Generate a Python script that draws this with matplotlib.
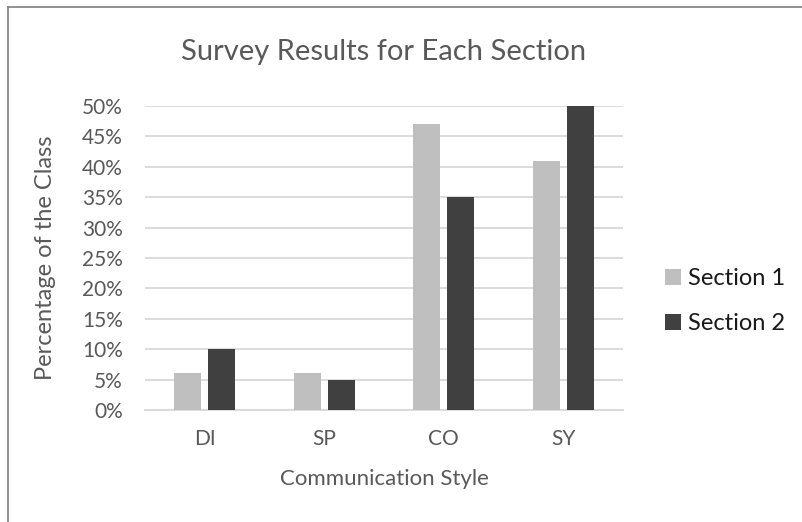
import matplotlib.pyplot as plt
import numpy as np
from matplotlib.lines import Line2D
from matplotlib.ticker import PercentFormatter

plt.rcParams['font.family'] = ['Lato', 'DejaVu Sans']

# dati
stili = ['DI', 'SP', 'CO', 'SY']
sezione_1 = [6, 6, 47, 41]
sezione_2 = [10, 5, 35, 50]
tick_y = [0, 5, 10, 15, 20, 25, 30, 35, 40, 45, 50]

grigio_testo = '#595959'

fig = plt.figure(figsize=(8.02, 5.22), dpi=100)
ax = fig.add_axes([0.1808, 0.2146, 0.596, 0.5824])

x = np.arange(len(stili))
larghezza = 0.225
ax.bar(x - 0.143, sezione_1, larghezza, color='#BFBFBF', label='Section 1', zorder=3)
ax.bar(x + 0.143, sezione_2, larghezza, color='#404040', label='Section 2', zorder=3)

ax.set_xlim(-0.5, len(stili) - 0.5)
ax.set_ylim(0, 50)
ax.set_yticks(tick_y)
ax.yaxis.set_major_formatter(PercentFormatter(decimals=0))
ax.set_xticks(x)
ax.set_xticklabels(stili)

ax.grid(axis='y', color='#D9D9D9', linewidth=1.3, zorder=0)
for lato in ['top', 'right', 'left']:
    ax.spines[lato].set_visible(False)
ax.spines['bottom'].set_color('#D9D9D9')
ax.spines['bottom'].set_linewidth(1.3)
ax.tick_params(length=0, labelsize=15, colors=grigio_testo)
ax.tick_params(axis='x', pad=14)
ax.tick_params(axis='y', pad=16)

ax.set_title('Survey Results for Each Section', fontsize=21, color=grigio_testo, pad=33)
ax.set_ylabel('Percentage of the Class', fontsize=17, color=grigio_testo, labelpad=19)
ax.set_xlabel('Communication Style', fontsize=16, color=grigio_testo, labelpad=14)

ax.legend(loc='center left', bbox_to_anchor=(0.803, 0.423), bbox_transform=fig.transFigure,
          frameon=False, fontsize=17, handlelength=0.65, handleheight=0.65,
          handletextpad=0.3, labelspacing=1.0, labelcolor='#1a1a1a')

# bordo del grafico (solo sinistra e alto visibili)
fig.add_artist(Line2D([7.5 / 802, 7.5 / 802], [0, 1 - 7 / 522], transform=fig.transFigure,
                      color='#888888', linewidth=1.3))
fig.add_artist(Line2D([7.5 / 802, 1], [1 - 7 / 522, 1 - 7 / 522], transform=fig.transFigure,
                      color='#888888', linewidth=1.3))

plt.savefig('out.png', dpi=100)
